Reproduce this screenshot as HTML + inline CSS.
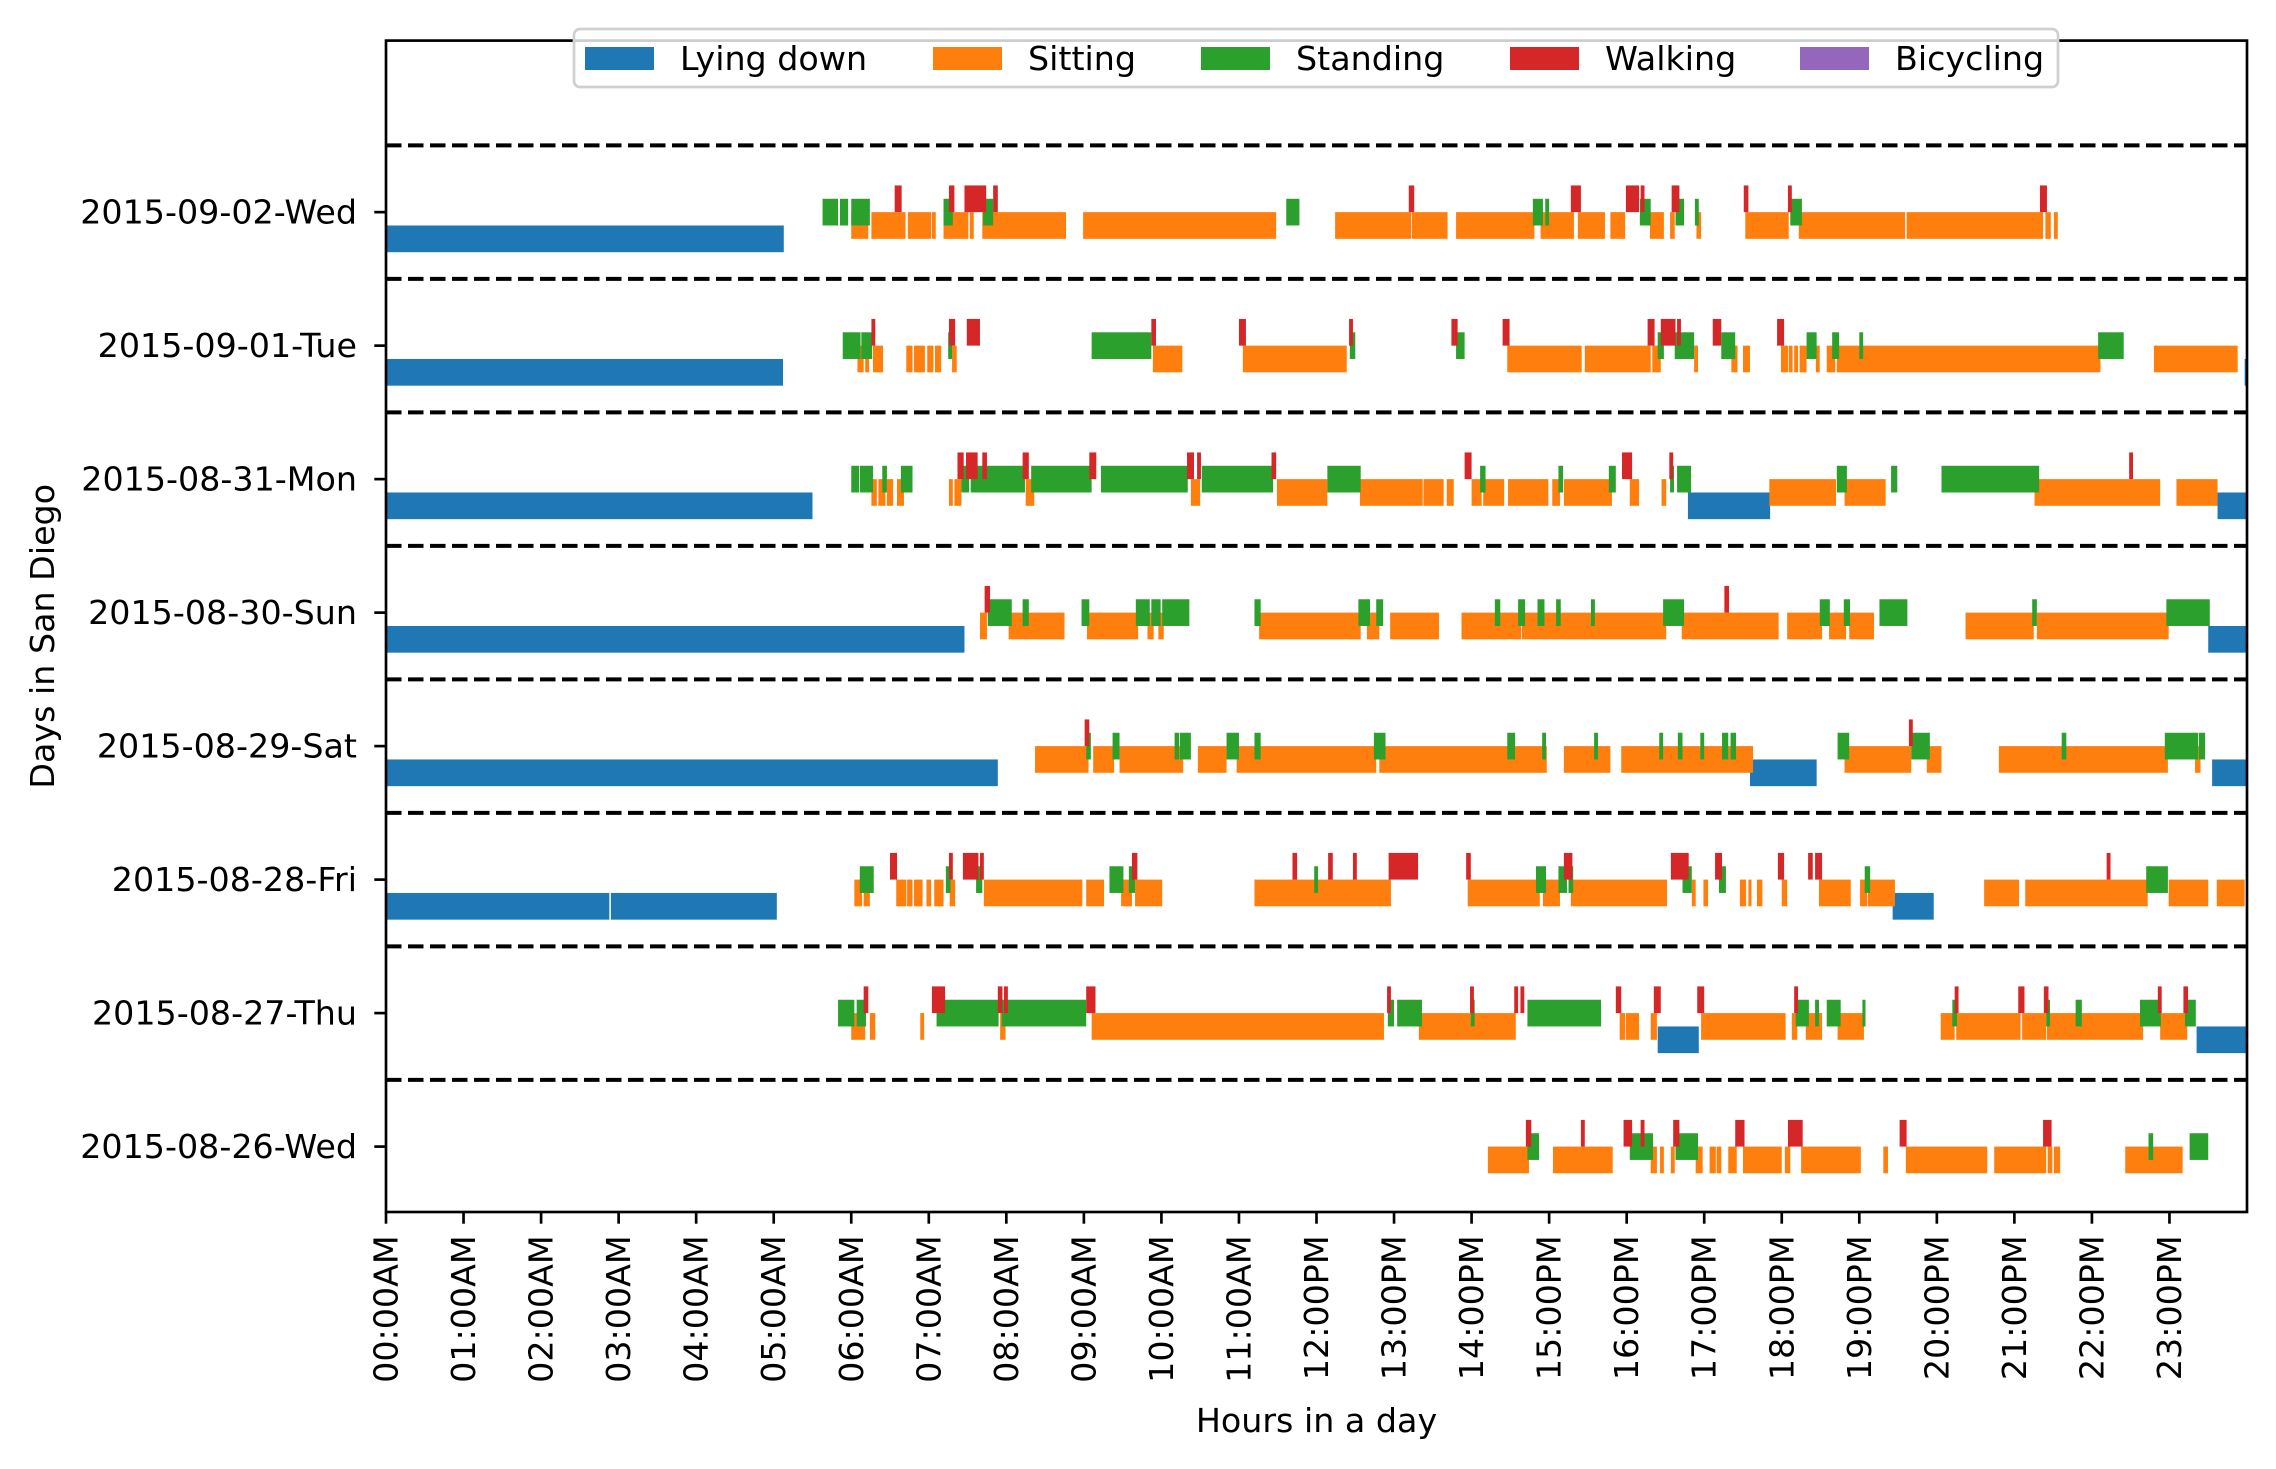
<!DOCTYPE html>
<html><head><meta charset="utf-8"><style>
html,body{margin:0;padding:0;background:#fff;width:2276px;height:1469px;overflow:hidden}
svg{display:block;font-family:"DejaVu Sans","Liberation Sans",sans-serif}
</style></head><body>
<svg id="chart" width="2276" height="1469" viewBox="0 0 2276 1469" xmlns="http://www.w3.org/2000/svg">
<g id="bars"></g>
<g id="axes"></g>
<g id="legend"></g>
</svg>
<script>
const dayLabels = ["2015-08-26-Wed","2015-08-27-Thu","2015-08-28-Fri","2015-08-29-Sat","2015-08-30-Sun","2015-08-31-Mon","2015-09-01-Tue","2015-09-02-Wed"];
const hourLabels = ["00:00AM","01:00AM","02:00AM","03:00AM","04:00AM","05:00AM","06:00AM","07:00AM","08:00AM","09:00AM","10:00AM","11:00AM","12:00PM","13:00PM","14:00PM","15:00PM","16:00PM","17:00PM","18:00PM","19:00PM","20:00PM","21:00PM","22:00PM","23:00PM"];
const activityNames = ["Lying down","Sitting","Standing","Walking","Bicycling"];
const activityColors = ["#1f77b4","#ff7f0e","#2ca02c","#d62728","#9467bd"];
// segments: [dayIndex, startHour, endHour]
const lyingDown = [[7,0,5.13],[6,0,5.12],[6,23.97,24],[5,0,5.5],[5,16.79,17.85],[5,23.62,24],[4,0,7.46],[4,23.5,24],[3,0,7.89],[3,17.59,18.45],[3,23.55,24],[2,0,2.88],[2,2.9,5.04],[2,19.43,19.96],[1,16.4,16.93],[1,23.35,24]];
const sitting = [
[7,6.0,6.22],[7,6.26,6.70],[7,6.73,7.03],[7,7.04,7.09],[7,7.19,7.51],[7,7.53,7.58],[7,7.69,8.77],[7,8.99,11.48],[7,12.24,13.22],[7,13.23,13.69],[7,13.8,14.81],[7,14.89,15.32],[7,15.37,15.72],[7,15.79,15.98],[7,16.3,16.48],[7,16.56,16.62],[7,16.9,16.96],[7,17.53,18.09],[7,18.22,19.59],[7,19.61,21.37],[7,21.4,21.47],[7,21.51,21.56],
[6,6.08,6.16],[6,6.18,6.23],[6,6.28,6.41],[6,6.71,6.79],[6,6.81,6.95],[6,6.98,7.06],[6,7.08,7.16],[6,7.30,7.36],[6,9.89,10.27],[6,11.05,12.39],[6,14.46,15.42],[6,15.46,16.31],[6,16.33,16.44],[6,16.87,16.92],[6,17.35,17.43],[6,17.5,17.59],[6,17.99,18.08],[6,18.09,18.14],[6,18.16,18.21],[6,18.23,18.32],[6,18.44,18.49],[6,18.58,18.69],[6,18.71,22.11],[6,22.8,23.88],
[5,6.26,6.33],[5,6.35,6.44],[5,6.46,6.54],[5,6.59,6.68],[5,7.26,7.31],[5,7.33,7.42],[5,8.25,8.36],[5,10.38,10.50],[5,11.49,12.14],[5,12.56,13.37],[5,13.38,13.64],[5,13.68,13.77],[5,14.0,14.13],[5,14.15,14.42],[5,14.47,14.99],[5,15.04,15.14],[5,15.19,15.81],[5,16.04,16.16],[5,16.45,16.51],[5,17.84,18.70],[5,18.81,19.34],[5,21.26,22.88],[5,23.09,23.62],
[4,7.66,7.75],[4,8.03,8.75],[4,9.04,9.70],[4,9.82,9.90],[4,9.96,10.03],[4,11.26,12.57],[4,12.65,12.81],[4,12.95,13.58],[4,13.87,14.64],[4,14.65,16.51],[4,16.71,17.96],[4,18.07,18.52],[4,18.61,18.83],[4,18.87,19.19],[4,20.37,21.25],[4,21.29,22.99],
[3,8.37,9.06],[3,9.12,9.39],[3,9.46,10.28],[3,10.47,10.84],[3,10.97,12.77],[3,12.81,14.97],[3,15.19,15.79],[3,15.93,17.63],[3,18.81,19.67],[3,19.87,20.06],[3,20.80,22.98],[3,23.33,23.40],
[2,6.04,6.14],[2,6.16,6.24],[2,6.58,6.71],[2,6.72,6.79],[2,6.81,6.92],[2,6.97,7.03],[2,7.07,7.19],[2,7.27,7.34],[2,7.71,8.98],[2,9.03,9.26],[2,9.48,9.62],[2,9.66,10.01],[2,11.2,12.96],[2,13.95,14.88],[2,14.92,15.14],[2,15.28,16.52],[2,16.84,16.89],[2,16.99,17.05],[2,17.46,17.54],[2,17.57,17.61],[2,17.68,17.75],[2,18.0,18.07],[2,18.48,18.89],[2,19.01,19.1],[2,19.11,19.46],[2,20.61,21.06],[2,21.14,22.72],[2,22.99,23.50],[2,23.61,23.97],
[1,6.0,6.18],[1,6.24,6.31],[1,6.89,6.94],[1,7.92,7.99],[1,9.10,12.87],[1,13.32,14.57],[1,15.91,15.98],[1,15.99,16.16],[1,16.31,16.39],[1,16.96,18.05],[1,18.13,18.20],[1,18.31,18.52],[1,18.72,19.06],[1,20.05,20.23],[1,20.25,21.08],[1,21.1,21.41],[1,21.42,22.66],[1,22.88,23.23],
[0,14.21,14.74],[0,15.05,15.82],[0,16.31,16.39],[0,16.43,16.48],[0,16.57,16.62],[0,16.89,16.98],[0,17.07,17.15],[0,17.16,17.22],[0,17.31,17.42],[0,17.5,18.0],[0,18.04,18.11],[0,18.25,19.02],[0,19.31,19.37],[0,19.6,20.65],[0,20.74,21.41],[0,21.43,21.49],[0,21.51,21.59],[0,22.43,23.17]];
const standing = [
[7,5.63,5.83],[7,5.855,5.96],[7,6.0,6.24],[7,7.19,7.31],[7,7.70,7.83],[7,11.61,11.78],[7,14.79,14.92],[7,14.95,15.0],[7,16.17,16.31],[7,16.63,16.74],[7,16.88,16.93],[7,18.11,18.26],
[6,5.89,6.12],[6,6.13,6.27],[6,7.25,7.30],[6,9.10,9.87],[6,12.43,12.50],[6,13.80,13.91],[6,16.40,16.48],[6,16.62,16.87],[6,17.22,17.40],[6,18.32,18.45],[6,18.65,18.74],[6,19.0,19.05],[6,22.08,22.41],
[5,6.0,6.1],[5,6.11,6.28],[5,6.40,6.46],[5,6.64,6.79],[5,7.42,7.52],[5,7.54,8.24],[5,8.32,9.10],[5,9.22,10.34],[5,10.52,11.44],[5,12.14,12.57],[5,14.11,14.18],[5,15.12,15.18],[5,15.77,15.86],[5,16.56,16.61],[5,16.65,16.83],[5,18.71,18.84],[5,19.41,19.49],[5,20.06,21.32],
[4,7.76,8.07],[4,8.21,8.29],[4,8.97,9.07],[4,9.67,9.85],[4,9.87,9.99],[4,10.01,10.36],[4,11.2,11.28],[4,12.54,12.69],[4,12.77,12.86],[4,14.30,14.37],[4,14.6,14.69],[4,14.85,14.94],[4,15.09,15.15],[4,15.54,15.59],[4,16.47,16.74],[4,18.49,18.62],[4,18.80,18.88],[4,19.26,19.62],[4,21.23,21.29],[4,22.96,23.52],
[3,9.03,9.09],[3,9.37,9.46],[3,10.17,10.23],[3,10.24,10.38],[3,10.84,11.0],[3,11.2,11.28],[3,12.74,12.89],[3,14.46,14.56],[3,14.91,14.96],[3,15.58,15.63],[3,16.42,16.47],[3,16.66,16.72],[3,16.95,17.0],[3,17.23,17.31],[3,17.34,17.41],[3,18.72,18.87],[3,19.67,19.91],[3,21.61,21.67],[3,22.94,23.37],[3,23.38,23.46],
[2,6.11,6.29],[2,7.22,7.28],[2,7.61,7.69],[2,9.33,9.51],[2,9.58,9.66],[2,11.97,12.02],[2,14.83,14.96],[2,15.12,15.23],[2,15.25,15.31],[2,16.72,16.84],[2,17.19,17.28],[2,19.07,19.14],[2,22.70,22.98],
[1,5.83,6.04],[1,6.07,6.19],[1,7.10,7.90],[1,7.94,9.03],[1,12.92,13.0],[1,13.04,13.36],[1,13.99,14.04],[1,14.72,15.67],[1,18.18,18.35],[1,18.43,18.48],[1,18.58,18.76],[1,19.04,19.08],[1,20.2,20.26],[1,21.41,21.46],[1,21.79,21.87],[1,22.62,22.89],[1,23.2,23.34],
[0,14.72,14.87],[0,16.04,16.34],[0,16.63,16.92],[0,22.73,22.79],[0,23.26,23.5]];
const walking = [
[7,6.56,6.65],[7,7.26,7.33],[7,7.46,7.74],[7,7.83,7.89],[7,13.19,13.26],[7,15.28,15.41],[7,15.99,16.16],[7,16.18,16.23],[7,16.58,16.68],[7,17.51,17.57],[7,18.08,18.13],[7,21.33,21.42],
[6,6.26,6.31],[6,7.26,7.34],[6,7.49,7.66],[6,9.87,9.93],[6,11.0,11.09],[6,12.42,12.47],[6,13.74,13.82],[6,14.40,14.49],[6,16.27,16.36],[6,16.44,16.63],[6,16.65,16.70],[6,17.11,17.22],[6,17.94,18.03],
[5,7.37,7.45],[5,7.48,7.63],[5,7.69,7.75],[5,8.21,8.29],[5,9.07,9.16],[5,10.33,10.42],[5,10.46,10.51],[5,11.42,11.48],[5,13.91,14.0],[5,15.94,16.07],[5,16.55,16.6],[5,22.48,22.53],
[4,7.72,7.79],[4,17.26,17.32],
[3,9.01,9.07],[3,19.64,19.69],
[2,6.5,6.59],[2,7.26,7.31],[2,7.44,7.64],[2,7.66,7.71],[2,9.62,9.69],[2,11.69,11.75],[2,12.15,12.21],[2,12.47,12.52],[2,12.93,13.31],[2,13.93,13.99],[2,15.19,15.30],[2,16.57,16.80],[2,17.14,17.23],[2,17.95,18.03],[2,18.34,18.40],[2,18.43,18.52],[2,22.19,22.24],
[1,6.16,6.22],[1,7.04,7.21],[1,7.89,7.95],[1,7.97,8.02],[1,9.03,9.15],[1,12.91,12.96],[1,13.98,14.03],[1,14.55,14.6],[1,14.63,14.68],[1,15.86,15.93],[1,16.35,16.44],[1,16.91,17.0],[1,18.16,18.21],[1,20.23,20.28],[1,21.05,21.13],[1,21.38,21.44],[1,22.85,22.90],[1,23.18,23.24],
[0,14.70,14.77],[0,15.41,15.46],[0,15.96,16.07],[0,16.18,16.23],[0,16.60,16.68],[0,17.4,17.52],[0,18.08,18.27],[0,19.52,19.61],[0,21.37,21.48]];
const bicycling = [];

const NS = "http://www.w3.org/2000/svg";
const L = 386, R = 2247, T = 40.6, B = 1212;
const X0 = 0, X1 = 24, Y0 = -0.49, Y1 = 8.285;
function xs(h){ return L + (h - X0) / (X1 - X0) * (R - L); }
function ys(v){ return B - (v - Y0) / (Y1 - Y0) * (B - T); }
function mk(tag, attrs, parent){ const e = document.createElementNS(NS, tag); for (const k in attrs) e.setAttribute(k, attrs[k]); parent.appendChild(e); return e; }

const gBars = document.getElementById("bars");
const series = [lyingDown, sitting, standing, walking, bicycling];
series.forEach((segs, k) => {
  const g = mk("g", {}, gBars);
  
  
  segs.forEach(s => {
    const c = s[0] + 0.1 * (k - 2);
    const y1 = ys(c + 0.1), y2 = ys(c - 0.1);
    const r = mk("rect", {x: xs(s[1]), y: y1, width: Math.max(xs(s[2]) - xs(s[1]), 1), height: y2 - y1, fill: activityColors[k]}, g);
    
    
  });
});
for (let i = 0; i < dayLabels.length; i++) {
  const y = ys(i + 0.5);
  const ln = mk("line", {x1: L, x2: R, y1: y, y2: y, stroke: "#000", "stroke-width": 4, "stroke-dasharray": "15.5 6.5"}, gBars);
  
  
}
const gA = document.getElementById("axes");
const frame = mk("rect", {x: L, y: T, width: R - L, height: B - T, fill: "none", stroke: "#000", "stroke-width": 2.67}, gA);


hourLabels.forEach((lab, i) => {
  const x = xs(i);
  const tk = mk("line", {x1: x, x2: x, y1: B, y2: B + 11.7, stroke: "#000", "stroke-width": 2.67}, gA);
  
  
  const t = mk("text", {x: 0, y: 0, "font-size": 33.3, "text-anchor": "end", "dominant-baseline": "central", transform: `translate(${x},${B + 23.4}) rotate(-90)`}, gA);
  t.textContent = lab;
  
  
});
dayLabels.forEach((lab, i) => {
  const y = ys(i);
  const tk = mk("line", {x1: L - 11.7, x2: L, y1: y, y2: y, stroke: "#000", "stroke-width": 2.67}, gA);
  
  
  const t = mk("text", {x: L - 29, y: y, "font-size": 33.3, "text-anchor": "end", "dominant-baseline": "central"}, gA);
  t.textContent = lab;
  
  
});
const xt = mk("text", {x: (L + R) / 2, y: 1432, "font-size": 33.3, "text-anchor": "middle"}, gA);
xt.textContent = "Hours in a day";


const yt = mk("text", {x: 0, y: 0, "font-size": 33.3, "text-anchor": "middle", transform: `translate(54,${(T + B) / 2 + 10}) rotate(-90)`}, gA);
yt.textContent = "Days in San Diego";



const gL = document.getElementById("legend");
const box = mk("rect", {x: 574, y: 29, width: 1484, height: 58, rx: 6, fill: "#fff", "fill-opacity": 0.8, stroke: "#d0d0d0", "stroke-width": 2.7}, gL);


const legendX = [585, 933, 1201, 1510, 1800];
activityNames.forEach((n, k) => {
  const g = mk("g", {}, gL);
  
  
  mk("rect", {x: legendX[k], y: 47, width: 69, height: 23, fill: activityColors[k]}, g);
  const t = mk("text", {x: legendX[k] + 95, y: 58.5, "font-size": 33.3, "dominant-baseline": "central"}, g);
  t.textContent = n;
});
</script>
</body></html>
